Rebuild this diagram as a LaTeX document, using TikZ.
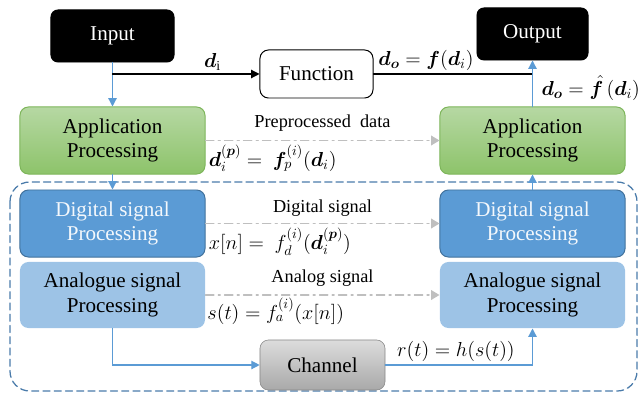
\documentclass[tikz,border=0pt]{standalone}
\usepackage{amsmath}
\usepackage{bm}
\usepackage{fontspec}
\setmainfont{Liberation Serif}
\usetikzlibrary{arrows.meta, calc}
\definecolor{GreenTop}{HTML}{B6D8A3}
\definecolor{GreenBot}{HTML}{8DC36A}
\definecolor{GreenLine}{HTML}{7DB55A}
\definecolor{DigBlue}{HTML}{5B9BD5}
\definecolor{DigLine}{HTML}{41719C}
\definecolor{AnaBlue}{HTML}{9DC3E6}
\definecolor{ChanTop}{HTML}{DCDCDC}
\definecolor{ChanBot}{HTML}{A9A9A9}
\definecolor{DashGray}{HTML}{BFBFBF}
\definecolor{FrameBlue}{HTML}{4A7BAA}
\tikzset{
	block/.style={rounded corners=6pt, align=center, inner sep=0pt, line width=0.7pt, font=\rmfamily\fontsize{15}{17.5}\selectfont},
	termbox/.style={block, fill=black, draw=black, text=white, minimum height=1.3cm, rounded corners=5pt},
	funcbox/.style={block, fill=white, draw=black, minimum width=2.825cm, minimum height=1.2cm},
	appbox/.style={block, top color=GreenTop, bottom color=GreenBot, draw=GreenLine, minimum width=4.625cm, minimum height=1.675cm},
	digbox/.style={block, fill=DigBlue, draw=DigLine, text=white!93!DigBlue, minimum width=4.625cm, minimum height=1.675cm},
	anabox/.style={block, fill=AnaBlue, draw=none, minimum width=4.625cm, minimum height=1.65cm},
	chanbox/.style={block, top color=ChanTop, bottom color=ChanBot, draw=ChanBot!80!black, line width=0.4pt, minimum width=3.125cm, minimum height=1.25cm},
	bluearrow/.style={draw=DigBlue, line width=0.9pt, -{Triangle[length=6pt, width=6pt]}},
	blackarrow/.style={draw=black, line width=0.8pt, -{Triangle[length=6pt, width=6pt]}},
	grayarrow/.style={draw=DashGray, line width=0.8pt, dash pattern=on 6pt off 3pt on 1.5pt off 3pt, -{Triangle[length=6pt, width=7pt]}},
	sigtext/.style={font=\rmfamily\fontsize{13}{15}\selectfont},
	eqtext/.style={font=\fontsize{14}{16}\selectfont, inner sep=2pt}
}

\begin{document}
\begin{tikzpicture}[x=0.025cm, y=-0.025cm, line cap=round]
	\useasboundingbox (0,0) rectangle (642,393);

	% frame round the signal part
	\draw[FrameBlue, line width=0.9pt, dash pattern=on 5pt off 3pt, rounded corners=14pt] (10,182) rectangle (637,391);

	\node[termbox, minimum width=3.075cm] (input) at (112.5,36) {Input};
	\node[termbox, minimum width=2.775cm] (output) at (532.5,34) {Output};
	\node[funcbox] (func) at (316.5,74) {Function};

	\node[appbox] (appL) at (112.5,140.5) {Application\\Processing};
	\node[appbox] (appR) at (532.5,140.5) {Application\\Processing};
	\node[digbox] (digL) at (112.5,223.5) {Digital signal\\Processing};
	\node[digbox] (digR) at (532.5,223.5) {Digital signal\\Processing};
	\node[anabox] (anaL) at (112.5,295) {Analogue signal\\Processing};
	\node[anabox] (anaR) at (532.5,295) {Analogue signal\\Processing};
	\node[chanbox] (chan) at (322.5,365) {Channel};

	\coordinate (split) at (input.south |- func.west);
	\coordinate (join) at (func.east -| output.south);

	\draw[bluearrow] (input) -- (appL);
	\draw[blackarrow] (split) -- node[pos=0.68, above, eqtext]{$\bm{d}_{\mathrm{i}}$} (func.west);
	\draw[line width=0.8pt] (func.east) -- node[pos=0.33, above, eqtext]{$\bm{d_o} = \bm{f}(\bm{d}_i)$} (join);
	\draw[bluearrow] (appR) -- node[pos=0.4, right, eqtext, xshift=5pt, inner sep=1pt]{$\bm{d_o} = \hat{\bm{f}}\,(\bm{d}_i)$} (output);

	\draw[bluearrow] (appL) -- (digL);
	\draw[bluearrow] (digR) -- (appR);

	\draw[grayarrow] (appL) -- node[above=3pt, sigtext]{Preprocessed\ \ data} node[pos=0, below right, eqtext, yshift=-1pt]{$\bm{d}_i^{(\bm{p})} =\ \bm{f}_p^{(i)}(\bm{d}_i)$} (appR);
	\draw[grayarrow] (digL) -- node[above=1pt, sigtext]{Digital signal} node[pos=0, below right, eqtext, yshift=-1pt]{$x[n] =\ f_d^{(i)}(\bm{d}_i^{(\bm{p})})$} (digR);
	\draw[grayarrow] (anaL) -- node[above=2pt, sigtext]{Analog signal} node[pos=0, below right, eqtext, xshift=-1pt]{$s(t) = f_a^{(i)}(x[n])$} (anaR);

	\draw[bluearrow] (anaL) |- (chan);
	\draw[bluearrow] (chan) -| node[pos=0.24, above, eqtext]{$r(t) = h(s(t))$} (anaR);

\end{tikzpicture}
\end{document}
